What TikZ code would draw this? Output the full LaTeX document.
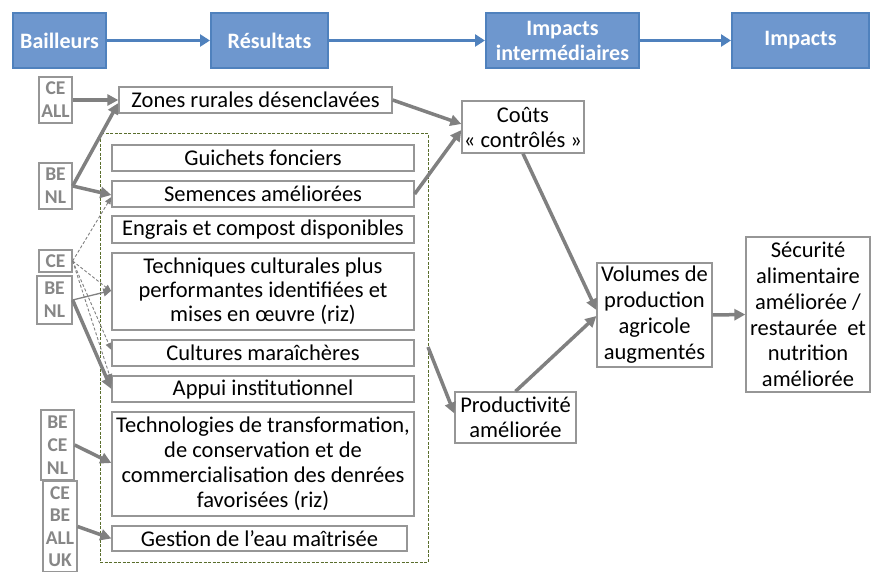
\documentclass[tikz,border=0pt]{standalone}
\usepackage{fontspec}
\setmainfont{Carlito}
\usetikzlibrary{arrows.meta}
\definecolor{bluefill}{RGB}{110,151,206}
\definecolor{blueline}{RGB}{79,129,189}
\definecolor{grayline}{RGB}{128,128,128}
\definecolor{boxline}{RGB}{150,150,150}
\definecolor{framegreen}{RGB}{90,110,45}
\definecolor{donorgray}{RGB}{135,135,135}
\begin{document}
\begin{tikzpicture}[x=1pt,y=-1pt,
  head/.style={fill=bluefill, draw=blueline, line width=2pt, text=white,
    font=\bfseries\fontsize{22}{25}\selectfont, align=center, inner sep=0pt},
  res/.style={draw=boxline, line width=1.3pt, fill=white, align=center, inner sep=0pt,
    font=\fontsize{22.5}{25}\selectfont},
  donor/.style={draw=boxline, line width=1.3pt, fill=white, align=center, inner sep=0pt,
    text=donorgray, font=\bfseries\fontsize{19.5}{23}\selectfont},
  bluearrow/.style={draw=blueline, line width=3pt, -{Triangle[length=10pt,width=12pt]}},
  big/.style={draw=grayline, line width=3.5pt, -{Triangle[length=11pt,width=11pt]}},
  thin/.style={draw=grayline, line width=1.3pt, -{Triangle[length=8pt,width=8pt]}},
  dsh/.style={draw=grayline, line width=0.9pt, dash pattern=on 3pt off 2pt, -{Triangle[length=7pt,width=6pt]}},
  framebox/.style={draw=framegreen, line width=1pt, dash pattern=on 3pt off 1.5pt, inner sep=0pt}
]
\useasboundingbox (0,0) rectangle (872,572);

% banner
\node[head, minimum width=93pt, minimum height=55pt] (bail) at (59.5,40.5) {Bailleurs};
\node[head, minimum width=117pt, minimum height=55pt] (resu) at (269.5,40.5) {Résultats};
\node[head, minimum width=153pt, minimum height=55pt] (inter) at (562.5,40.5) {Impacts\\intermédiaires};
\node[head, minimum width=137pt, minimum height=55pt] (imp) at (800.5,40.5) {Impacts};
\draw[bluearrow] (bail) -- (resu);
\draw[bluearrow] (resu) -- (inter);
\draw[bluearrow] (inter) -- (imp);

% frame
\node[framebox, minimum width=328pt, minimum height=428pt] (frame) at (264,348) {};

% results
\node[res, minimum width=273pt, minimum height=26pt] (zones) at (255.5,100) {Zones rurales désenclavées};
\node[res, minimum width=302pt, minimum height=26pt] (guich) at (263,158) {Guichets fonciers};
\node[res, minimum width=302pt, minimum height=26pt] (sem) at (263,194) {Semences améliorées};
\node[res, minimum width=302pt, minimum height=27pt] (engr) at (263,229.5) {Engrais et compost disponibles};
\node[res, minimum width=302pt, minimum height=77pt, font=\fontsize{22.5}{24}\selectfont] (tech) at (263,291.5) {Techniques culturales plus\\performantes identifiées et\\mises en œuvre (riz)};
\node[res, minimum width=302pt, minimum height=26pt] (cult) at (263,353) {Cultures maraîchères};
\node[res, minimum width=302pt, minimum height=26pt] (appui) at (263,389) {Appui institutionnel};
\node[res, minimum width=302pt, minimum height=104pt] (techno) at (263,464) {Technologies de transformation,\\de conservation et de\\commercialisation des denrées\\favorisées (riz)};
\node[res, minimum width=295pt, minimum height=25pt] (gest) at (259.5,538.5) {Gestion de l’eau maîtrisée};

% intermediate / impacts
\node[res, minimum width=122pt, minimum height=52pt] (couts) at (523,127) {Coûts\\«~contrôlés~»};
\node[res, minimum width=121pt, minimum height=51pt] (prod) at (515.5,417.5) {Productivité\\améliorée};
\node[res, minimum width=115pt, minimum height=104pt, font=\fontsize{22.5}{26}\selectfont] (vol) at (654.5,315) {Volumes de\\production\\agricole\\augmentés};
\node[res, minimum width=124pt, minimum height=155pt, font=\fontsize{22.5}{25.8}\selectfont] (secu) at (808,314.5) {Sécurité\\alimentaire\\améliorée /\\restaurée~ et\\nutrition\\améliorée};

% donors
\node[donor, minimum width=33pt, minimum height=46pt] (ceall) at (55.5,100) {CE\\ALL};
\node[donor, minimum width=33pt, minimum height=46pt] (benla) at (55.5,186) {BE\\NL};
\node[donor, minimum width=33pt, minimum height=22pt] (ce) at (55.5,261) {CE};
\node[donor, minimum width=35pt, minimum height=48pt] (benlb) at (54.5,300) {BE\\NL};
\node[donor, minimum width=33pt, minimum height=70pt] (becenl) at (57.5,445) {BE\\CE\\NL};
\node[donor, minimum width=34pt, minimum height=91pt, font=\bfseries\fontsize{19.5}{22.5}\selectfont] (ceuk) at (60,526.5) {CE\\BE\\ALL\\UK};

% dashed arrows from CE
\draw[dsh] (ce.east) -- ([yshift=-3pt]sem.west);
\draw[dsh] (ce.east) -- (tech.west);
\draw[dsh] (ce.east) -- ([yshift=3pt]cult.west);
\draw[dsh] (ce.east) -- ([yshift=8pt]appui.west);

% thick donor arrows
\draw[big] (ceall.east) -- (zones.west);
\draw[big] (benla.east) -- ([yshift=-3pt]zones.west);
\draw[big] (benla.east) -- ([yshift=-1pt]sem.west);
\draw[thin] (benlb.east) -- ([yshift=1pt]tech.west);
\draw[big] (benlb.east) -- (appui.west);
\draw[big] (becenl.east) -- ([yshift=1pt]techno.west);
\draw[big] (ceuk.east) -- (gest.west);

% right-hand arrows
\coordinate (cstart) at (428,347);
\draw[big] (zones.east) -- ([yshift=3pt]couts.west);
\draw[big] (sem.east) -- ([yshift=-3pt]couts.west);
\draw[big] (couts.south) -- ([yshift=5pt]vol.west);
\draw[big] (prod.north) -- ([yshift=-1pt]vol.west);
\draw[big] (cstart) -- ([yshift=4pt]prod.west);
\draw[big] (vol.east) -- (secu.west);
\end{tikzpicture}
\end{document}
